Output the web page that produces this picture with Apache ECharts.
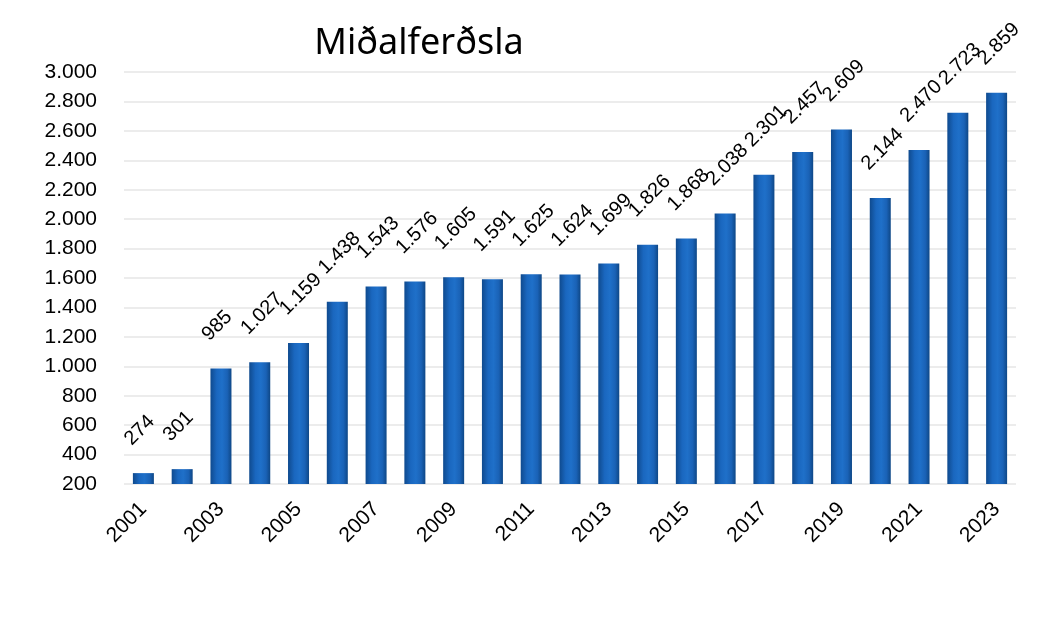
<!DOCTYPE html>
<html>
<head>
<meta charset="utf-8">
<script src="https://cdn.jsdelivr.net/npm/echarts@6/dist/echarts.min.js"></script>
<style>html,body{margin:0;padding:0;background:#fff;}#c{width:1037px;height:618px;}</style>
</head>
<body>
<div id="c"></div>
<script>
const titleText = 'Miðalferðsla';
const years = ['2001','2002','2003','2004','2005','2006','2007','2008','2009','2010','2011','2012','2013','2014','2015','2016','2017','2018','2019','2020','2021','2022','2023'];
const values = [274, 301, 985, 1027, 1159, 1438, 1543, 1576, 1605, 1591, 1625, 1624, 1699, 1826, 1868, 2038, 2301, 2457, 2609, 2144, 2470, 2723, 2859];
const yMin = 200, yMax = 3000, yStep = 200;

function fmt(v) { return String(v).replace(/\B(?=(\d{3})+(?!\d))/g, '.'); }

const chart = echarts.init(document.getElementById('c'), null, {renderer: 'canvas'});
chart.setOption({
  backgroundColor: '#ffffff',
  animation: false,
  title: {
    text: titleText,
    left: 414, top: 21, textAlign: 'center',
    textStyle: {fontFamily: 'Noto Sans', fontWeight: 'normal', fontSize: 36, color: '#000'}
  },
  grid: {left: 124, right: 21, top: 72, bottom: 134, containLabel: false},
  xAxis: {
    type: 'category',
    data: years,
    axisLine: {show: false},
    axisTick: {show: false},
    axisLabel: {
      interval: 1, rotate: 45, margin: 22,
      fontFamily: 'Liberation Sans', fontSize: 21, color: '#000'
    }
  },
  yAxis: {
    type: 'value', min: yMin, max: yMax, interval: yStep,
    axisLine: {show: false}, axisTick: {show: false},
    axisLabel: {margin: 27, fontFamily: 'Liberation Sans', fontSize: 21, color: '#000', formatter: fmt},
    splitLine: {lineStyle: {color: '#e6e6e6', width: 1.5}}
  },
  series: [{
    type: 'bar',
    data: values,
    barWidth: 21,
    itemStyle: {
      color: new echarts.graphic.LinearGradient(0, 0, 1, 0, [
        {offset: 0, color: '#0f4a8e'},
        {offset: 0.3, color: '#1a67bf'},
        {offset: 0.55, color: '#1f70c9'},
        {offset: 0.8, color: '#1a62b6'},
        {offset: 1, color: '#0e4786'}
      ])
    },
    label: {
      show: true,
      position: [-5, -31],
      rotate: 45,
      align: 'left',
      verticalAlign: 'middle',
      fontFamily: 'Liberation Sans', fontSize: 20, color: '#000',
      formatter: p => fmt(p.value)
    }
  }]
});
</script>
</body>
</html>
